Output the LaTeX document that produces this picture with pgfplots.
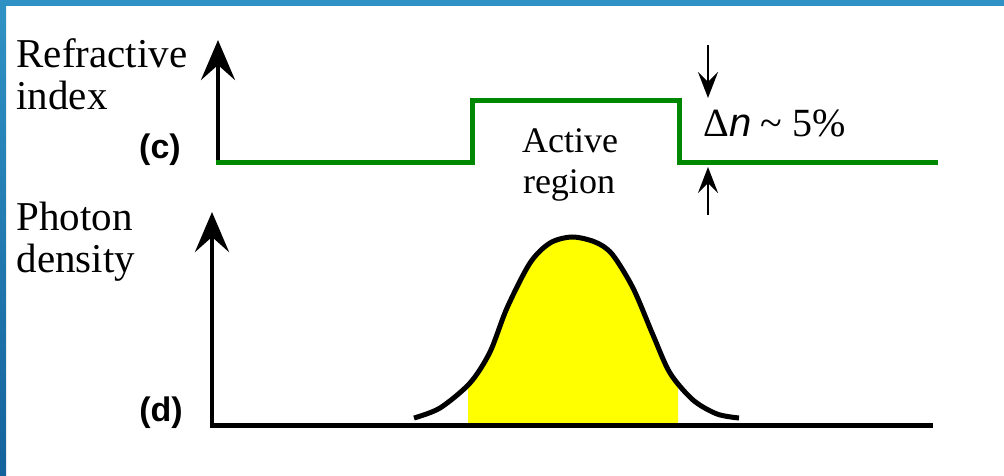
\documentclass[border=0pt]{standalone}
\usepackage{fontspec}
\setmainfont{Liberation Serif}
\newfontfamily\labelsans{Liberation Sans}
\usepackage{pgfplots}
\pgfplotsset{compat=1.18}
\usepgfplotslibrary{fillbetween}
\usetikzlibrary{arrows.meta}

\definecolor{stepgreen}{RGB}{0,135,0}
\definecolor{modeyellow}{RGB}{255,255,0}
\definecolor{frameblueA}{RGB}{48,146,196}
\definecolor{frameblueB}{RGB}{20,98,156}

\begin{document}
\begin{tikzpicture}
\begin{axis}[
  scale only axis, width=1004pt, height=475pt,
  xmin=0, xmax=1004, ymin=0, ymax=475, y dir=reverse,
  hide axis, clip=false,
  every node/.style={inner sep=0pt, outer sep=0pt},
]
% page extent and frame
\path[use as bounding box] (axis cs:0,0) rectangle (axis cs:1004,475);
\fill[frameblueA] (axis cs:0,0) rectangle (axis cs:1004,6);
\shade[top color=frameblueA, bottom color=frameblueB] (axis cs:0,0) rectangle (axis cs:6,475);

% (c) refractive index profile
\draw[line width=4.5pt, -{Stealth[length=40pt,width=34pt,inset=15pt]}]
  (axis cs:218,165) -- (axis cs:218,40);
\addplot[stepgreen, line width=5pt, line join=miter] coordinates {
  (216,162) (472,162) (472,101) (679,101) (679,162) (938,162)
};
\draw[line width=2.5pt, -{Stealth[length=26pt,width=20pt,inset=10pt]}]
  (axis cs:708,45) -- (axis cs:708,98);
\draw[line width=2.5pt, -{Stealth[length=26pt,width=20pt,inset=10pt]}]
  (axis cs:708,215) -- (axis cs:708,167);
\node[anchor=base west] at (axis cs:700,137)
  {\fontsize{40}{42}\selectfont Δ{\labelsans\itshape n}\hspace{9pt}\textasciitilde\hspace{10pt}5\%};
\node[anchor=base] at (axis cs:570,152) {\fontsize{36}{40}\selectfont Active};
\node[anchor=base] at (axis cs:569,193) {\fontsize{36}{40}\selectfont region};
\node[anchor=base west] at (axis cs:13,68) {\fontsize{41}{44}\selectfont Refractive};
\node[anchor=base west] at (axis cs:13,110) {\fontsize{41}{44}\selectfont index};
\node at (axis cs:160,150) {\fontsize{34}{36}\selectfont\labelsans\bfseries (c)};

% (d) photon density profile
\draw[line width=4.5pt, -{Stealth[length=40pt,width=34pt,inset=15pt]}]
  (axis cs:212,427) -- (axis cs:212,212);
\addplot[draw=none, name path=mode, smooth] coordinates {
  (414,418) (440,408) (470,383) (490,352) (507,308) (530,263) (550,243)
  (572,237) (595,242) (612,254) (633,288) (653,335) (670,373) (693,400)
  (717,414) (739,418)
};
\addplot[draw=none, name path=floor] coordinates {(400,423) (760,423)};
\addplot[modeyellow, on layer=main] fill between[of=mode and floor, soft clip={domain=468:678}];
\draw[line width=5pt] (axis cs:210,425) -- (axis cs:933,425);
\addplot[black, line width=5pt, smooth] coordinates {
  (414,418) (440,408) (470,383) (490,352) (507,308) (530,263) (550,243)
  (572,237) (595,242) (612,254) (633,288) (653,335) (670,373) (693,400)
  (717,414) (739,418)
};
\node[anchor=base west] at (axis cs:13,230) {\fontsize{41}{44}\selectfont Photon};
\node[anchor=base west] at (axis cs:13,272) {\fontsize{41}{44}\selectfont density};
\node at (axis cs:161,413) {\fontsize{34}{36}\selectfont\labelsans\bfseries (d)};
\end{axis}
\end{tikzpicture}
\end{document}
